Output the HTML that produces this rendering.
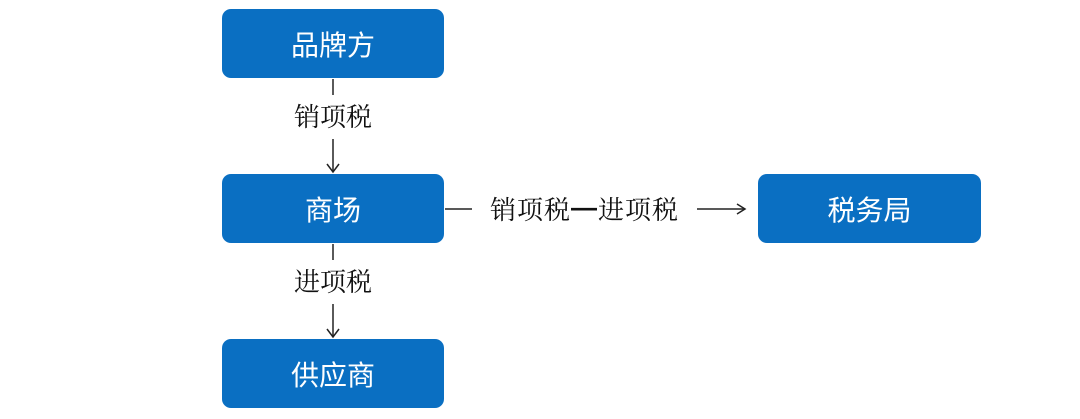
<!DOCTYPE html>
<html><head><meta charset="utf-8"><style>
body{margin:0;width:1080px;height:419px;background:#fff;position:relative;overflow:hidden;font-family:"Liberation Serif","Noto Serif CJK SC",serif}
.b{position:absolute;width:222px;height:69px;background:#0a6fc2;border-radius:9px;color:#fff;font-size:28px;display:flex;align-items:center;justify-content:center;font-family:"Liberation Sans","Noto Sans CJK SC",sans-serif}
.t{position:absolute;font-size:26px;color:#111;line-height:1;white-space:nowrap}
</style></head><body>
<div class="b" style="left:222px;top:9px">品牌方</div>
<div class="b" style="left:222px;top:174px">商场</div>
<div class="b" style="left:222px;top:339px">供应商</div>
<div class="b" style="left:758px;top:174px;width:223px">税务局</div>
<div class="t" style="left:294px;top:105px">销项税</div>
<div class="t" style="left:294px;top:270px">进项税</div>
<div class="t" style="left:490px;top:197px;letter-spacing:1px">销项税<b style="font-weight:900;font-family:'Liberation Sans',sans-serif;font-size:26px;position:relative;top:-3px">—</b>进项税</div>
<svg width="1080" height="419" style="position:absolute;left:0;top:0">
<g stroke="#222" stroke-width="1.5" fill="none">
<line x1="333" y1="79" x2="333" y2="95"/>
<line x1="333" y1="139" x2="333" y2="172"/>
<polyline points="327,164 333,172 339,164"/>
<line x1="333" y1="244" x2="333" y2="260"/>
<line x1="333" y1="304" x2="333" y2="337"/>
<polyline points="327,329 333,337 339,329"/>
<line x1="445" y1="209" x2="472" y2="209"/>
<line x1="697" y1="209" x2="745" y2="209"/>
<polyline points="737,204 745,209 737,214"/>
</g></svg>
</body></html>
